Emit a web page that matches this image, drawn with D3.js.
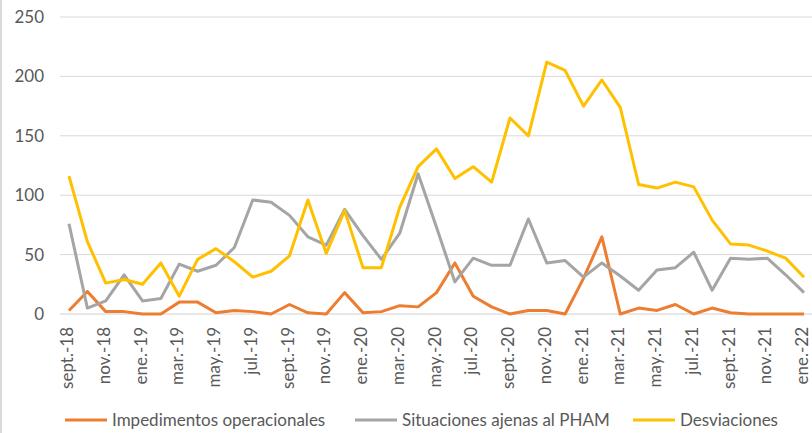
<!DOCTYPE html>
<html>
<head>
<meta charset="utf-8">
<script src="https://cdn.jsdelivr.net/npm/d3@7"></script>
<style>
  body { margin: 0; background: #fff; }
  svg { display: block; }
  text { font-family: Lato, "Open Sans", sans-serif; fill: #595959; }
</style>
</head>
<body>
<div id="chart"></div>
<script>
var months = ["sept.-18","oct.-18","nov.-18","dic.-18","ene.-19","feb.-19","mar.-19","abr.-19","may.-19","jun.-19",
    "jul.-19","ago.-19","sept.-19","oct.-19","nov.-19","dic.-19","ene.-20","feb.-20","mar.-20","abr.-20",
    "may.-20","jun.-20","jul.-20","ago.-20","sept.-20","oct.-20","nov.-20","dic.-20","ene.-21","feb.-21",
    "mar.-21","abr.-21","may.-21","jun.-21","jul.-21","ago.-21","sept.-21","oct.-21","nov.-21","dic.-21","ene.-22"];

var impedimentos = [3,19,2,2,0,0,10,10,1,3,2,0,8,1,0,18,1,2,7,6,18,43,15,6,0,3,3,0,30,65,0,5,3,8,0,5,1,0,0,0,0];
var situaciones = [76,5,11,33,11,13,42,36,41,56,96,94,83,65,58,88,66,46,68,118,73,27,47,41,41,80,43,45,31,43,32,20,37,39,52,20,47,46,47,33,18];
var desviaciones = [116,61,26,29,25,43,15,46,55,44,31,36,49,96,51,87,39,39,90,124,139,114,124,111,165,150,212,205,175,197,174,109,106,111,107,79,59,58,53,47,31];

var yTicks = [0,50,100,150,200,250];

var series = [
    {name: "Impedimentos operacionales", values: impedimentos, color: "#ED7D31"},
    {name: "Situaciones ajenas al PHAM", values: situaciones, color: "#A5A5A5"},
    {name: "Desviaciones", values: desviaciones, color: "#FFC000"}
];

var w = 812, h = 433;

var svg = d3.select("#chart")
    .append("svg")
    .attr("width", w)
    .attr("height", h);

// chart border on the left
svg.append("line")
    .attr("x1", 1).attr("x2", 1)
    .attr("y1", 0).attr("y2", h)
    .attr("stroke", "#d9d9d9")
    .attr("stroke-width", 2);

var x = d3.scalePoint()
    .domain(d3.range(months.length))
    .range([69, 804]);

var y = d3.scaleLinear()
    .domain([0, 250])
    .range([314, 17]);

// gridlines
svg.selectAll(".grid")
    .data(yTicks.slice(1))
    .enter()
    .append("line")
    .attr("x1", 60).attr("x2", w)
    .attr("y1", function(d){ return y(d); })
    .attr("y2", function(d){ return y(d); })
    .attr("stroke", "#d9d9d9")
    .attr("stroke-width", 1);

// base axis
svg.append("line")
    .attr("x1", 60).attr("x2", w)
    .attr("y1", y(0)).attr("y2", y(0))
    .attr("stroke", "#d0d0d0")
    .attr("stroke-width", 1);

// y labels
svg.selectAll(".ylab")
    .data(yTicks)
    .enter()
    .append("text")
    .attr("x", 44)
    .attr("y", function(d){ return y(d); })
    .attr("dy", "0.35em")
    .attr("text-anchor", "end")
    .style("font-size", "17px")
    .text(function(d){ return d; });

// x labels, every other month
svg.selectAll(".xlab")
    .data(d3.range(0, months.length, 2))
    .enter()
    .append("text")
    .attr("transform", function(i){ return "translate(" + (x(i) + 4) + ",327) rotate(-90)"; })
    .attr("text-anchor", "end")
    .style("font-size", "17px")
    .text(function(i){ return months[i]; });

var line = d3.line()
    .x(function(d, i){ return x(i); })
    .y(function(d){ return y(d); });

svg.selectAll(".series")
    .data(series)
    .enter()
    .append("path")
    .attr("d", function(s){ return line(s.values); })
    .attr("fill", "none")
    .attr("stroke", function(s){ return s.color; })
    .attr("stroke-width", 3)
    .attr("stroke-linejoin", "round");

// legend
var legendX = [65, 355, 633];
var leg = svg.selectAll(".leg")
    .data(series)
    .enter()
    .append("g")
    .attr("transform", function(s, i){ return "translate(" + legendX[i] + ",420)"; });

leg.append("line")
    .attr("x1", 0).attr("x2", 42)
    .attr("y1", 0).attr("y2", 0)
    .attr("stroke", function(s){ return s.color; })
    .attr("stroke-width", 3);

leg.append("text")
    .attr("x", 47)
    .attr("dy", "0.35em")
    .style("font-size", "17px")
    .text(function(s){ return s.name; });
</script>
</body>
</html>
